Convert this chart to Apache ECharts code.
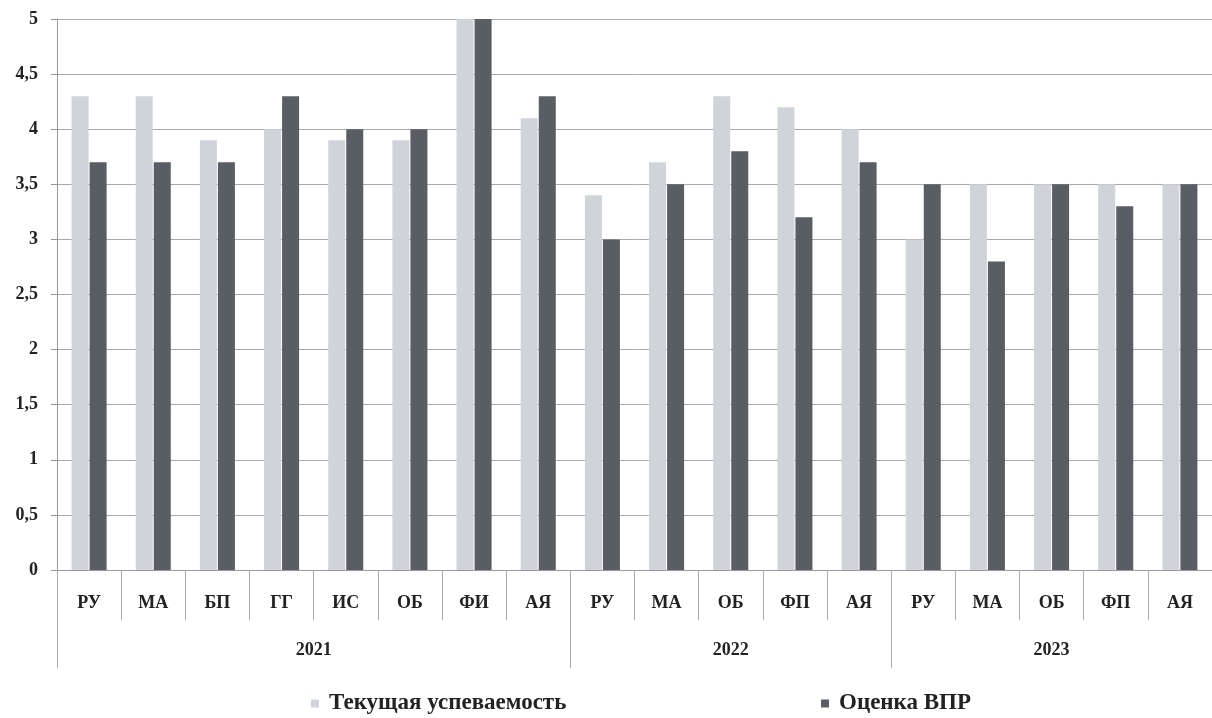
<!DOCTYPE html>
<html><head><meta charset="utf-8">
<script src="https://cdn.jsdelivr.net/npm/echarts@6/dist/echarts.min.js"></script>
<style>html,body{margin:0;padding:0;background:#fff}#c{width:1212px;height:718px}</style>
</head><body><div id="c"></div>
<script>
const subjects = ['РУ','МА','БП','ГГ','ИС','ОБ','ФИ','АЯ','РУ','МА','ОБ','ФП','АЯ','РУ','МА','ОБ','ФП','АЯ'];
const years = ['2021','2022','2023'];
const yearCounts = [8,5,5];
const current = [4.3,4.3,3.9,4.0,3.9,3.9,5.0,4.1, 3.4,3.7,4.3,4.2,4.0, 3.0,3.5,3.5,3.5,3.5];
const vpr     = [3.7,3.7,3.7,4.3,4.0,4.0,5.0,4.3, 3.0,3.5,3.8,3.2,3.7, 3.5,2.8,3.5,3.3,3.5];
const seriesNames = ['Текущая успеваемость','Оценка ВПР'];
const yTicks = [0,0.5,1,1.5,2,2.5,3,3.5,4,4.5,5];

// second-level axis on half-category steps (boundaryGap false)
const halfSteps = [];
for (let i = 0; i <= subjects.length*2; i++) halfSteps.push(String(i));
const yearLabelAt = {}, yearTickAt = {0:true};
let start = 0;
yearCounts.forEach((n,k)=>{ yearLabelAt[start + n] = years[k]; start += n*2; yearTickAt[start] = true; });

const font = '"Liberation Serif","DejaVu Serif",serif';
const lightC = '#d0d3da', darkC = '#595e65';
const legendText = {fontFamily:font,fontSize:23,fontWeight:'bold',color:'#222',padding:[0,0,0,5]};
const chart = echarts.init(document.getElementById('c'));
chart.setOption({
  backgroundColor:'#fff',
  animation:false,
  grid:{left:57,right:0,top:19,bottom:148},
  legend:[
    {data:[seriesNames[0]],left:306,top:687,itemWidth:8,itemHeight:8,icon:'rect',textStyle:legendText},
    {data:[seriesNames[1]],left:816,top:687,itemWidth:8,itemHeight:8,icon:'rect',textStyle:legendText}
  ],
  xAxis:[
    {type:'category',data:subjects,position:'bottom',
     axisLine:{lineStyle:{color:'#999'}},
     axisTick:{show:true,interval:0,length:50,lineStyle:{color:'#aaa'}},
     axisLabel:{interval:0,margin:24,fontFamily:font,fontSize:18,fontWeight:'bold',color:'#222'}},
    {type:'category',data:halfSteps,boundaryGap:false,position:'bottom',
     axisLine:{show:false},
     axisTick:{show:true,length:98,interval:(i)=>!!yearTickAt[i],lineStyle:{color:'#aaa'}},
     axisLabel:{margin:71,interval:(i)=>yearLabelAt[i]!==undefined,formatter:(v)=>yearLabelAt[+v]||'',
       fontFamily:font,fontSize:18,fontWeight:'bold',color:'#222'},
     splitLine:{show:false}}
  ],
  yAxis:{type:'value',min:0,max:5,interval:0.5,
    axisLine:{show:true,lineStyle:{color:'#999'}},
    axisTick:{show:true,length:6,lineStyle:{color:'#999'}},
    splitLine:{lineStyle:{color:'#aaa'}},
    axisLabel:{margin:19,fontFamily:font,fontSize:18,fontWeight:'bold',color:'#222',
      formatter:(v)=>String(v).replace('.',',')}},
  series:[
    {name:seriesNames[0],type:'bar',data:current,barWidth:17,barGap:'6%',itemStyle:{color:lightC}},
    {name:seriesNames[1],type:'bar',data:vpr,barWidth:17,itemStyle:{color:darkC}}
  ]
});
</script></body></html>
